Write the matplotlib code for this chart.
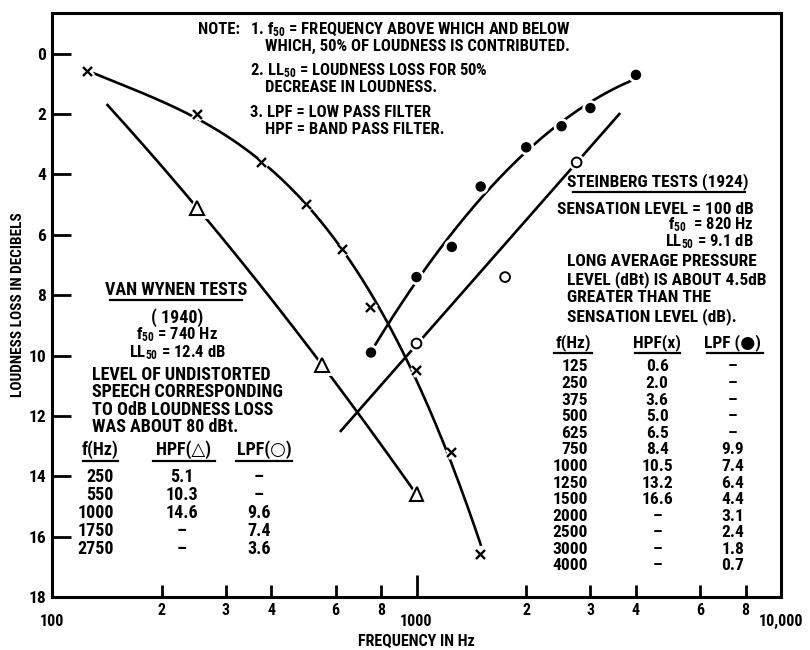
import numpy as np
import matplotlib
matplotlib.use("Agg")
import matplotlib.pyplot as plt
import matplotlib.patheffects as pe
from matplotlib import font_manager as fm
from matplotlib.ticker import FixedLocator

# pick a condensed sans that is installed
have = set(f.name for f in fm.fontManager.ttflist)
for cand in ["Roboto Condensed", "Archivo Narrow", "PT Sans Narrow", "Liberation Sans Narrow",
             "Barlow Condensed", "IBM Plex Sans Condensed", "Encode Sans Condensed", "DejaVu Sans"]:
    if cand in have:
        FONT = cand
        break
plt.rcParams["font.family"] = [FONT, "DejaVu Sans"]
plt.rcParams["font.weight"] = "bold"
plt.rcParams["axes.labelweight"] = "bold"
plt.rcParams["mathtext.fontset"] = "custom"
plt.rcParams["mathtext.rm"] = FONT + ":bold"
plt.rcParams["mathtext.default"] = "rm"

# Steinberg tests (1924)
st_freq = [125, 250, 375, 500, 625, 750, 1000, 1250, 1500, 2000, 2500, 3000, 4000]
st_hpf = [0.6, 2.0, 3.6, 5.0, 6.5, 8.4, 10.5, 13.2, 16.6, None, None, None, None]
st_lpf = [None, None, None, None, None, 9.9, 7.4, 6.4, 4.4, 3.1, 2.4, 1.8, 0.7]

# Van Wynen tests (1940)
vw_freq = [250, 550, 1000, 1750, 2750]
vw_hpf = [5.1, 10.3, 14.6, None, None]
vw_lpf = [None, None, 9.6, 7.4, 3.6]

# frequency span of each faired curve
st_hpf_span = (130, 1500)
st_lpf_span = (768, 4000)
vw_hpf_span = (142, 1000)
vw_lpf_span = (620, 3600)

y_ticks = [0, 2, 4, 6, 8, 10, 12, 14, 16, 18]
x_major = [100, 1000, 10000]
x_major_labels = ["100", "1000", "10,000"]
x_minor = [200, 300, 400, 600, 800, 2000, 3000, 4000, 6000, 8000]
x_minor_labels = ["2", "3", "4", "6", "8", "2", "3", "4", "6", "8"]


def pairs(freq, vals):
    f = np.array([a for a, b in zip(freq, vals) if b is not None], dtype=float)
    v = np.array([b for b in vals if b is not None], dtype=float)
    return f, v


def faired(f, v, span, deg, w=None):
    c = np.polyfit(np.log10(f), v, deg, w=w)
    ff = np.logspace(np.log10(span[0]), np.log10(span[1]), 200)
    return ff, np.polyval(c, np.log10(ff))


fig = plt.figure(figsize=(8.1, 6.5), dpi=100)
ax = fig.add_axes([52 / 810, 1 - 597 / 650, 729 / 810, 584 / 650])
ax.set_xscale("log")
ax.set_xlim(100, 10000)
ax.set_ylim(18, -1.35)

lw = 1.9
halo = [pe.Stroke(linewidth=5, foreground="white"), pe.Normal()]

series = [
    (st_freq, st_hpf, st_hpf_span, 3, None, dict(marker="x", color="black", ms=6.5, mew=1.7)),
    (st_freq, st_lpf, st_lpf_span, 2, None, dict(marker="o", color="black", ms=6.5)),
    (vw_freq, vw_hpf, vw_hpf_span, 2, None, dict(marker="^", mfc="white", mec="black", ms=10, mew=1.5)),
    (vw_freq, vw_lpf, vw_lpf_span, 1, [1, 0.3, 3], dict(marker="o", mfc="white", mec="black", ms=7, mew=1.4)),
]
for freq, vals, span, deg, w, mk in series:
    f, v = pairs(freq, vals)
    ff, vv = faired(f, v, span, deg, w)
    ax.plot(ff, vv, color="black", lw=lw, zorder=2)
    ax.plot(f, v, ls="none", zorder=3, path_effects=halo, **mk)

# axes styling
for s in ax.spines.values():
    s.set_linewidth(2.2)
ax.set_yticks(y_ticks)
ax.set_yticklabels([str(t) for t in y_ticks])
ax.tick_params(axis="y", direction="in", length=14, width=2, pad=4, labelsize=12.5)
ax.tick_params(axis="y", which="minor", length=0)
ax.xaxis.set_major_locator(FixedLocator(x_major))
ax.set_xticklabels(x_major_labels)
ax.xaxis.set_minor_locator(FixedLocator(x_minor))
ax.set_xticklabels(x_minor_labels, minor=True)
ax.tick_params(axis="x", which="major", direction="in", length=16, width=2, pad=12, labelsize=11.5)
ax.tick_params(axis="x", which="minor", direction="in", length=9, width=2, pad=4, labelsize=11.5)
ax.set_ylabel("LOUDNESS LOSS IN DECIBELS", fontsize=11, labelpad=3)
ax.set_xlabel("FREQUENCY IN Hz", fontsize=11.5, labelpad=3)

T = ax.transAxes
fn = 12
fv = 13
fsb = 12.5

# note
ax.text(0.200, 0.971, "NOTE:", transform=T, fontsize=fn, va="center")
note = [
    (0.272, 0.971, "1. f$_{50}$ = FREQUENCY ABOVE WHICH AND BELOW"),
    (0.292, 0.943, "WHICH, 50% OF LOUDNESS IS CONTRIBUTED."),
    (0.272, 0.902, "2. LL$_{50}$ = LOUDNESS LOSS FOR 50%"),
    (0.292, 0.872, "DECREASE IN LOUDNESS."),
    (0.272, 0.830, "3. LPF = LOW PASS FILTER"),
    (0.292, 0.801, "HPF = BAND PASS FILTER."),
]
for x, y, s in note:
    ax.text(x, y, s, transform=T, fontsize=fn, va="center")

# Van Wynen block
ax.text(0.170, 0.526, "VAN WYNEN TESTS", transform=T, fontsize=fv, ha="center", va="center")
ax.plot([0.080, 0.261], [0.508, 0.508], transform=T, color="black", lw=1.6)
ax.text(0.172, 0.478, "( 1940)", transform=T, fontsize=fv, ha="center", va="center")
for y, s in [(0.449, "f$_{50}$ = 740 Hz"), (0.418, "LL$_{50}$ = 12.4 dB")]:
    ax.text(0.172, y, s, transform=T, fontsize=12, ha="center", va="center")
for i, s in enumerate(["LEVEL OF UNDISTORTED", "SPEECH CORRESPONDING",
                       "TO OdB LOUDNESS LOSS", "WAS ABOUT 80 dBt."]):
    ax.text(0.055, 0.380 - 0.0295 * i, s, transform=T, fontsize=fv, va="center")
for x, s, (x0, x1) in [(0.066, "f(Hz)", (0.043, 0.091)),
                       (0.181, "HPF(\u25b3)", (0.139, 0.224)),
                       (0.291, "LPF(\u25cb)", (0.252, 0.329))]:
    ax.text(x, 0.252, s, transform=T, fontsize=fv, ha="center", va="center")
    ax.plot([x0, x1], [0.233, 0.233], transform=T, color="black", lw=1.6)
for i, f in enumerate(vw_freq):
    y = 0.205 - 0.0305 * i
    h = "\u2013" if vw_hpf[i] is None else f"{vw_hpf[i]:.1f}"
    l = "\u2013" if vw_lpf[i] is None else f"{vw_lpf[i]:.1f}"
    ax.text(0.085, y, str(f), transform=T, fontsize=fv, ha="right", va="center")
    ax.text(0.178, y, h, transform=T, fontsize=fv, ha="center", va="center")
    ax.text(0.284, y, l, transform=T, fontsize=fv, ha="center", va="center")

# Steinberg block
ax.text(0.831, 0.712, "STEINBERG TESTS (1924)", transform=T, fontsize=fsb, ha="center", va="center")
ax.plot([0.715, 0.951], [0.694, 0.694], transform=T, color="black", lw=1.6)
ax.text(0.963, 0.664, "SENSATION LEVEL = 100 dB", transform=T, fontsize=fsb, ha="right", va="center")
for y, s in [(0.638, "f$_{50}$  = 820 Hz"), (0.608, "LL$_{50}$ = 9.1 dB")]:
    ax.text(0.963, y, s, transform=T, fontsize=12, ha="right", va="center")
for i, s in enumerate(["LONG AVERAGE PRESSURE", "LEVEL (dBt) IS ABOUT 4.5dB",
                       "GREATER THAN THE", "SENSATION LEVEL (dB)."]):
    ax.text(0.706, 0.574 - 0.031 * i, s, transform=T, fontsize=fsb, va="center")
for x, s, (x0, x1) in [(0.715, "f(Hz)", (0.689, 0.741)),
                       (0.830, "HPF(x)", (0.800, 0.861)),
                       (0.934, "LPF (\u25cf)", (0.898, 0.975))]:
    ax.text(x, 0.436, s, transform=T, fontsize=fsb, ha="center", va="center")
    ax.plot([x0, x1], [0.418, 0.418], transform=T, color="black", lw=1.6)
for i, f in enumerate(st_freq):
    y = 0.394 - 0.0284 * i
    h = "\u2013" if st_hpf[i] is None else f"{st_hpf[i]:.1f}"
    l = "\u2013" if st_lpf[i] is None else f"{st_lpf[i]:.1f}"
    ax.text(0.735, y, str(f), transform=T, fontsize=fsb, ha="right", va="center")
    ax.text(0.830, y, h, transform=T, fontsize=fsb, ha="center", va="center")
    ax.text(0.934, y, l, transform=T, fontsize=fsb, ha="center", va="center")

fig.savefig("out.png", dpi=100)
